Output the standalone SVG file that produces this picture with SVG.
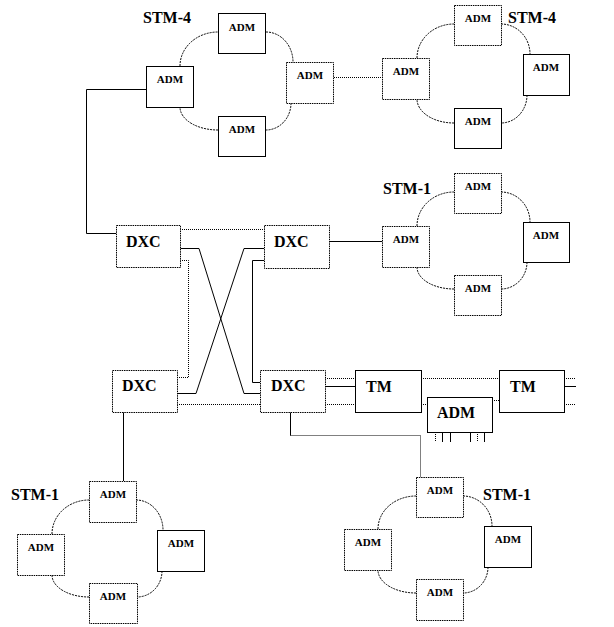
<svg xmlns="http://www.w3.org/2000/svg" width="614" height="627" viewBox="0 0 614 627">
<style>
.box{fill:#fff;stroke:#000;stroke-width:1}
.dbox{fill:#fff;stroke:#000;stroke-width:1;stroke-dasharray:1.5,0.8}
.ln{fill:none;stroke:#000;stroke-width:1}
.dl{fill:none;stroke:#000;stroke-width:1;stroke-dasharray:1,1}
.arc{fill:none;stroke:#000;stroke-width:1;stroke-dasharray:2,1}
.s{font-family:"Liberation Serif","Times New Roman",serif;font-weight:bold;font-size:11px;text-anchor:middle}
.b{font-family:"Liberation Serif","Times New Roman",serif;font-weight:bold;font-size:16px}
</style>
<rect width="614" height="627" fill="#fff"/>
<g id="connectors">
<path class="ln" d="M146,89.5 H86.5 V233.5 H116"/>
<path class="dl" d="M334,77.5 H382"/>
<path class="dl" d="M180,229.5 H264"/>
<path class="ln" d="M180,248.5 H199 L244,393.5 H260"/>
<path class="dl" d="M180,260.5 H188.5 V377.5 H177"/>
<path class="ln" d="M264,248.5 H244 L196,393.5 H177"/>
<path class="ln" d="M264,260.5 H252.5 V382.5 H260"/>
<path class="dl" d="M177,404.5 H260"/>
<path class="ln" d="M329,241.5 H382"/>
<path class="ln" d="M123.5,412 V481"/>
<path class="dl" d="M325,378.5 H355"/>
<path class="ln" d="M325,386.5 H355"/>
<path class="dl" d="M325,404.5 H355"/>
<path class="dl" d="M421,378.5 H499"/>
<path class="dl" d="M421,404.5 H427"/>
<path class="dl" d="M492,400.5 H499"/>
<path class="dl" d="M564,378.5 H576"/>
<path class="ln" d="M564,386.5 H576"/>
<path class="dl" d="M566,404.5 H576"/>
<path class="dl" d="M435.5,432 V442"/>
<path class="ln" d="M442.5,432 V442"/>
<path class="ln" d="M450.5,432 V442"/>
<path class="ln" d="M470.5,432 V442"/>
<path class="dl" d="M477.5,432 V442"/>
<path class="ln" d="M484.5,432 V442"/>
<path class="ln" d="M290.5,412 V435.5"/>
<path class="dl" d="M290.5,435.5 H420.5 V477"/>
<!-- ring arcs -->
<path class="arc" d="M180,66 A38,34 0 0 1 218,32"/>
<path class="arc" d="M266,32 A27,30 0 0 1 293,62"/>
<path class="arc" d="M291,103 A25,27 0 0 1 266,130"/>
<path class="arc" d="M218,130 A38,23 0 0 1 180,107"/>
<path class="arc" d="M417,58 A37,34 0 0 1 454,24"/>
<path class="arc" d="M501,24 A29,30 0 0 1 530,54"/>
<path class="arc" d="M527,95 A26,28 0 0 1 501,123"/>
<path class="arc" d="M454,123 A37,24 0 0 1 417,99"/>
<path class="arc" d="M417,226 A37,34 0 0 1 454,192"/>
<path class="arc" d="M501,192 A29,30 0 0 1 530,222"/>
<path class="arc" d="M527,262 A26,27 0 0 1 501,289"/>
<path class="arc" d="M454,289 A37,22 0 0 1 417,267"/>
<path class="arc" d="M52,534 A37,34 0 0 1 89,500"/>
<path class="arc" d="M136,500 A27,30 0 0 1 163,530"/>
<path class="arc" d="M162,571 A25,26 0 0 1 137,597"/>
<path class="arc" d="M89,597 A37,22 0 0 1 52,575"/>
<path class="arc" d="M378,529 A38,33 0 0 1 416,496"/>
<path class="arc" d="M463,496 A29,30 0 0 1 492,526"/>
<path class="arc" d="M488,567 A25,26 0 0 1 463,593"/>
<path class="arc" d="M416,593 A38,23 0 0 1 378,570"/>
</g>
<g id="labels">
<text class="b" x="143" y="23">STM-4</text>
<text class="b" x="508" y="23">STM-4</text>
<text class="b" x="383" y="194">STM-1</text>
<text class="b" x="11" y="500">STM-1</text>
<text class="b" x="483" y="500">STM-1</text>
</g>
<g id="ringA-top"><rect class="box" x="218.5" y="13.5" width="47" height="40"/><text class="s" x="242" y="31">ADM</text></g>
<g id="ringA-left"><rect class="box" x="146.5" y="66.5" width="47" height="41"/><text class="s" x="170" y="83">ADM</text></g>
<g id="ringA-right"><rect class="dbox" x="286.5" y="62.5" width="47" height="41"/><text class="s" x="310" y="79">ADM</text></g>
<g id="ringA-bottom"><rect class="box" x="218.5" y="116.5" width="47" height="40"/><text class="s" x="242" y="133">ADM</text></g>
<g id="ringB-top"><rect class="dbox" x="454.5" y="5.5" width="47" height="40"/><text class="s" x="478" y="22">ADM</text></g>
<g id="ringB-left"><rect class="dbox" x="382.5" y="58.5" width="47" height="41"/><text class="s" x="406" y="75">ADM</text></g>
<g id="ringB-right"><rect class="box" x="523.5" y="54.5" width="46" height="41"/><text class="s" x="546" y="71">ADM</text></g>
<g id="ringB-bottom"><rect class="box" x="454.5" y="108.5" width="47" height="40"/><text class="s" x="478" y="125">ADM</text></g>
<g id="ringC-top"><rect class="dbox" x="454.5" y="173.5" width="47" height="40"/><text class="s" x="478" y="190">ADM</text></g>
<g id="ringC-left"><rect class="dbox" x="382.5" y="226.5" width="47" height="41"/><text class="s" x="406" y="243">ADM</text></g>
<g id="ringC-right"><rect class="box" x="523.5" y="222.5" width="46" height="40"/><text class="s" x="546" y="239">ADM</text></g>
<g id="ringC-bottom"><rect class="dbox" x="454.5" y="275.5" width="47" height="40"/><text class="s" x="478" y="292">ADM</text></g>
<g id="ringD-top"><rect class="dbox" x="89.5" y="481.5" width="47" height="41"/><text class="s" x="113" y="498">ADM</text></g>
<g id="ringD-left"><rect class="dbox" x="17.5" y="534.5" width="47" height="41"/><text class="s" x="41" y="551">ADM</text></g>
<g id="ringD-right"><rect class="box" x="157.5" y="530.5" width="47" height="41"/><text class="s" x="181" y="547">ADM</text></g>
<g id="ringD-bottom"><rect class="dbox" x="89.5" y="583.5" width="48" height="40"/><text class="s" x="113" y="600">ADM</text></g>
<g id="ringE-top"><rect class="dbox" x="416.5" y="477.5" width="47" height="40"/><text class="s" x="440" y="494">ADM</text></g>
<g id="ringE-left"><rect class="dbox" x="344.5" y="529.5" width="47" height="41"/><text class="s" x="368" y="546">ADM</text></g>
<g id="ringE-right"><rect class="box" x="484.5" y="526.5" width="47" height="41"/><text class="s" x="508" y="543">ADM</text></g>
<g id="ringE-bottom"><rect class="dbox" x="416.5" y="579.5" width="47" height="41"/><text class="s" x="440" y="596">ADM</text></g>
<g id="dxc-tl"><rect class="dbox" x="116.5" y="225.5" width="64" height="42"/><text class="b" x="126" y="247">DXC</text></g>
<g id="dxc-tr"><rect class="dbox" x="264.5" y="225.5" width="65" height="43"/><text class="b" x="274" y="247">DXC</text></g>
<g id="dxc-bl"><rect class="dbox" x="112.5" y="370.5" width="65" height="42"/><text class="b" x="122" y="391">DXC</text></g>
<g id="dxc-br"><rect class="dbox" x="260.5" y="370.5" width="65" height="42"/><text class="b" x="271" y="391">DXC</text></g>
<g id="tm1"><rect class="box" x="355.5" y="370.5" width="66" height="42"/><text class="b" x="366" y="392">TM</text></g>
<g id="tm2"><rect class="box" x="499.5" y="370.5" width="65" height="42"/><text class="b" x="510" y="392">TM</text></g>
<g id="adm-mid"><rect class="box" x="427.5" y="397.5" width="65" height="35"/><text class="b" x="437" y="418">ADM</text></g>
</svg>
